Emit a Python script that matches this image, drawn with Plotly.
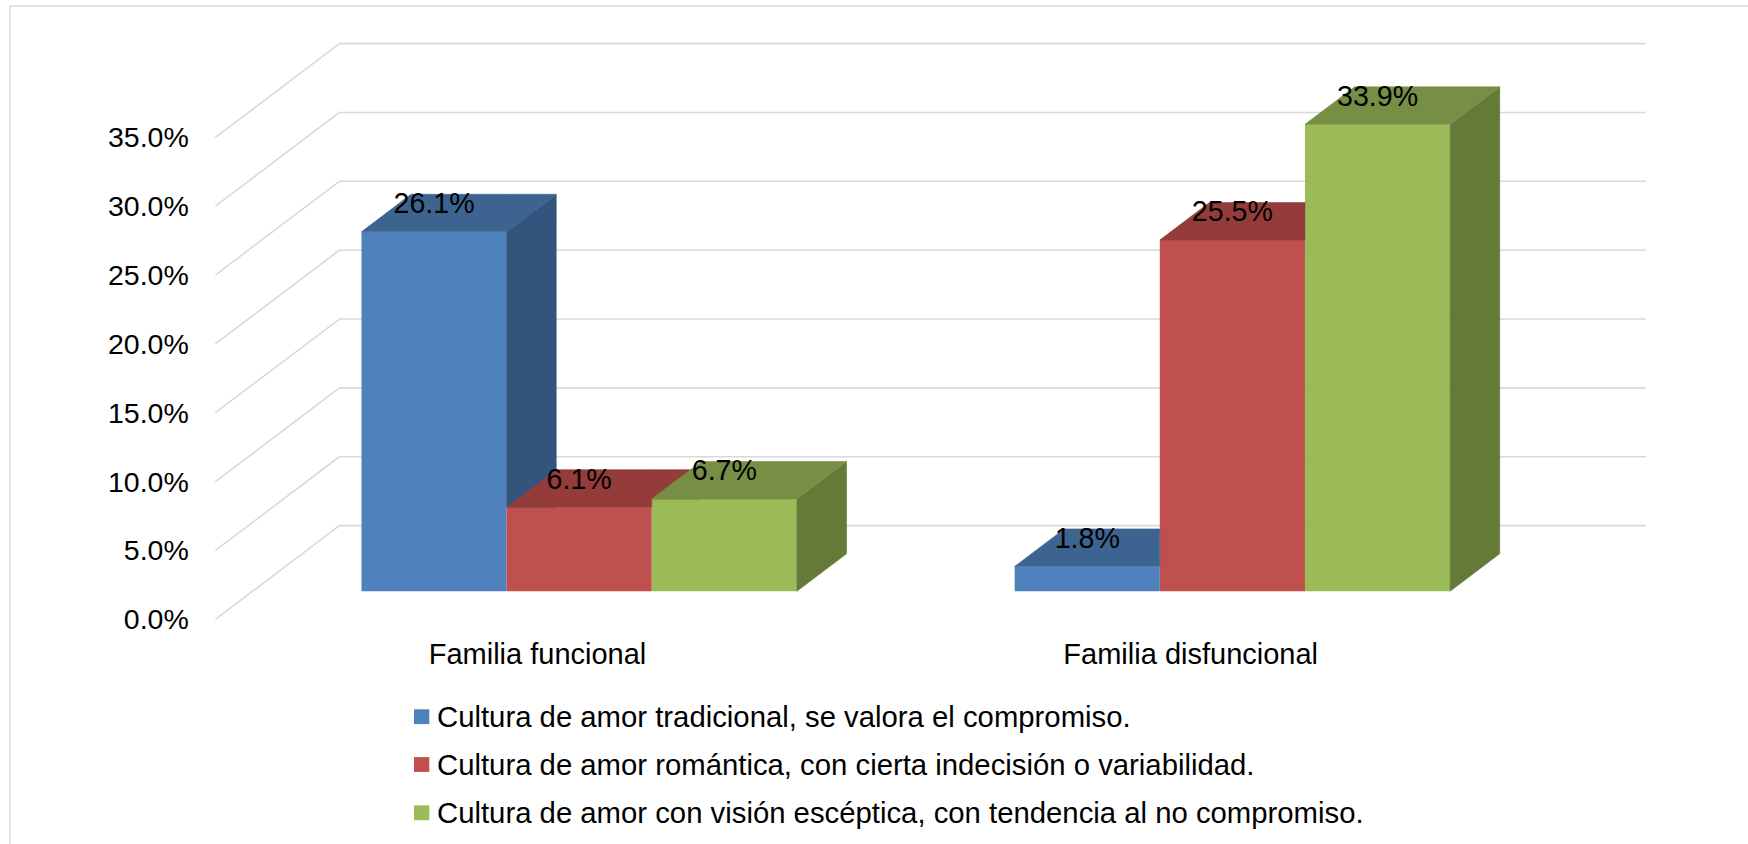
import plotly.graph_objects as go

# ---------------- data ----------------
categories = ["Familia funcional", "Familia disfuncional"]
series_names = [
    "Cultura de amor tradicional, se valora el compromiso.",
    "Cultura de amor romántica, con cierta indecisión o variabilidad.",
    "Cultura de amor con visión escéptica, con tendencia al no compromiso.",
]
tradicional = [26.1, 1.8]
romantica = [6.1, 25.5]
esceptica = [6.7, 33.9]
y_ticks = [0, 5, 10, 15, 20, 25, 30, 35]
y_tick_labels = [f"{t:.1f}%" for t in y_ticks]

series_values = [tradicional, romantica, esceptica]

# ---------------- styles / geometry ----------------
front_colors = ["#4F81BD", "#C0504D", "#9BBB59"]
top_colors = ["#3D6491", "#933C3A", "#778F45"]
side_colors = ["#33547C", "#7E3331", "#657A39"]
GRID = "#D9D9D9"
FONT = "Liberation Sans, Arial, sans-serif"
FS_TICK = 28.5
FS_CAT = 29
FS_LAB = 28.6
FS_LEG = 29.3

W, H = 1748, 844
PX_PER_CAT = 653.2
CAT0_PX = 542.0
PX_PER_PCT = 13.771
ZERO_PX = 619.3
x_range = [-CAT0_PX / PX_PER_CAT, (W - CAT0_PX) / PX_PER_CAT]
y_range = [-(H - ZERO_PX) / PX_PER_PCT, ZERO_PX / PX_PER_PCT]

DEPTH_X = 124 / PX_PER_CAT      # back wall offset (x units)
DEPTH_Y = 93.7 / PX_PER_PCT     # back wall offset (% units)
D0, D1 = 0.30, 0.70             # bar depth span
BARGAP = 1 / 3
n_series = len(series_values)
bar_w = (1 - BARGAP) / n_series
base = D0 * DEPTH_Y
shift_x = D0 * DEPTH_X
ddx = (D1 - D0) * DEPTH_X
ddy = (D1 - D0) * DEPTH_Y
label_gap = 25.8 / PX_PER_PCT
CAT_LABEL_DX = -4.5 / PX_PER_CAT


# ---------------- polygon helpers ----------------
def clip(poly, inside, intersect):
    out = []
    n = len(poly)
    for i in range(n):
        cur, prev = poly[i], poly[i - 1]
        if inside(cur):
            if not inside(prev):
                out.append(intersect(prev, cur))
            out.append(cur)
        elif inside(prev):
            out.append(intersect(prev, cur))
    return out


def ix(xc):
    return lambda a, b: (xc, a[1] + (b[1] - a[1]) * (xc - a[0]) / (b[0] - a[0]))


def iy(yc):
    return lambda a, b: (a[0] + (b[0] - a[0]) * (yc - a[1]) / (b[1] - a[1]), yc)


def area(poly):
    s = 0.0
    for i in range(len(poly)):
        x1, y1 = poly[i - 1]
        x2, y2 = poly[i]
        s += x1 * y2 - x2 * y1
    return abs(s) / 2


def visible(poly, xr, ytop_next):
    if ytop_next is None:
        return [poly]
    a = clip(poly, lambda p: p[0] <= xr + 1e-12, ix(xr))
    b = clip(poly, lambda p: p[0] >= xr - 1e-12, ix(xr))
    b = clip(b, lambda p: p[1] >= ytop_next - 1e-12, iy(ytop_next)) if b else []
    return [p for p in (a, b) if len(p) >= 3 and area(p) > 1e-9]


def poly_xy(polys):
    xs, ys = [], []
    for p in polys:
        xs += [q[0] for q in p] + [p[0][0], None]
        ys += [q[1] for q in p] + [p[0][1], None]
    return xs, ys


fig = go.Figure()

# front faces (real bars)
bar_x = [i + shift_x for i in range(len(categories))]
for k, vals in enumerate(series_values):
    fig.add_trace(go.Bar(
        x=bar_x, y=vals, base=[base] * len(vals), name=series_names[k],
        marker=dict(color=front_colors[k], line=dict(width=0)),
        showlegend=False, hoverinfo="skip",
    ))

# side and top faces, painter's order
lab_x, lab_y, lab_t = [], [], []
for i in range(len(categories)):
    for k, vals in enumerate(series_values):
        v = vals[i]
        xl = i + shift_x - (n_series / 2) * bar_w + k * bar_w
        xr = xl + bar_w
        nxt = base + series_values[k + 1][i] if k + 1 < n_series else None
        side = [(xr, base), (xr + ddx, base + ddy), (xr + ddx, base + ddy + v), (xr, base + v)]
        top = [(xl, base + v), (xr, base + v), (xr + ddx, base + v + ddy), (xl + ddx, base + v + ddy)]
        for poly, col in ((side, side_colors[k]), (top, top_colors[k])):
            pieces = visible(poly, xr, nxt)
            if not pieces:
                continue
            xs, ys = poly_xy(pieces)
            fig.add_trace(go.Scatter(
                x=xs, y=ys, mode="lines", fill="toself", fillcolor=col,
                line=dict(color=col, width=0.6), showlegend=False, hoverinfo="skip",
            ))
        lab_x.append((xl + xr) / 2)
        lab_y.append(base + v + label_gap)
        lab_t.append(f"{v:.1f}%")

fig.add_trace(go.Scatter(
    x=lab_x, y=lab_y, text=lab_t, mode="text", textposition="middle center",
    textfont=dict(family=FONT, size=FS_LAB, color="#000000"),
    showlegend=False, hoverinfo="skip",
))

# back wall gridlines and left wall diagonals
shapes = []
x_front_left = -0.5
x_front_right = len(categories) - 0.5
for t in y_ticks:
    shapes.append(dict(type="line", xref="x", yref="y", layer="below",
                       x0=x_front_left + DEPTH_X, x1=x_front_right + DEPTH_X,
                       y0=t + DEPTH_Y, y1=t + DEPTH_Y, line=dict(color=GRID, width=1.6)))
    shapes.append(dict(type="line", xref="x", yref="y", layer="below",
                       x0=x_front_left, x1=x_front_left + DEPTH_X,
                       y0=t, y1=t + DEPTH_Y, line=dict(color=GRID, width=1.6)))

# chart border
shapes.append(dict(type="rect", xref="paper", yref="paper", layer="below",
                   x0=10 / W, x1=1.05, y0=-0.05, y1=1 - 6 / H,
                   line=dict(color=GRID, width=1.4)))

# legend (manual)
leg_y = [716.7, 764.5, 812.8]
annotations = []
for k, name in enumerate(series_names):
    yc = 1 - leg_y[k] / H
    shapes.append(dict(type="rect", xref="paper", yref="paper",
                       x0=414 / W, x1=429.3 / W, y0=yc - 7.4 / H, y1=yc + 7.4 / H,
                       fillcolor=front_colors[k], line=dict(width=0)))
    annotations.append(dict(xref="paper", yref="paper", x=435 / W, y=yc,
                            xanchor="left", yanchor="middle", showarrow=False,
                            text=name, font=dict(family=FONT, size=FS_LEG, color="#000000")))

fig.update_layout(
    width=W, height=H, margin=dict(l=0, r=0, t=0, b=0),
    paper_bgcolor="white", plot_bgcolor="white",
    barmode="group", bargap=BARGAP, bargroupgap=0,
    font=dict(family=FONT, size=FS_TICK, color="#000000"),
    showlegend=False,
    shapes=shapes, annotations=annotations,
    xaxis=dict(range=x_range, domain=[0, 1], anchor="free", position=1 - 633.5 / H,
               tickvals=[i + CAT_LABEL_DX for i in range(len(categories))], ticktext=categories,
               showgrid=False, zeroline=False, showline=False, ticks="",
               tickfont=dict(family=FONT, size=FS_CAT, color="#000000")),
    yaxis=dict(range=y_range, domain=[0, 1], anchor="free", position=188.8 / W,
               tickvals=y_ticks, ticktext=y_tick_labels,
               showgrid=False, zeroline=False, showline=False, ticks="",
               tickfont=dict(family=FONT, size=FS_TICK, color="#000000")),
)

fig.write_html("out.html", config={"displayModeBar": False},
               post_script="document.body.style.margin='0px';document.body.style.overflow='hidden';")
